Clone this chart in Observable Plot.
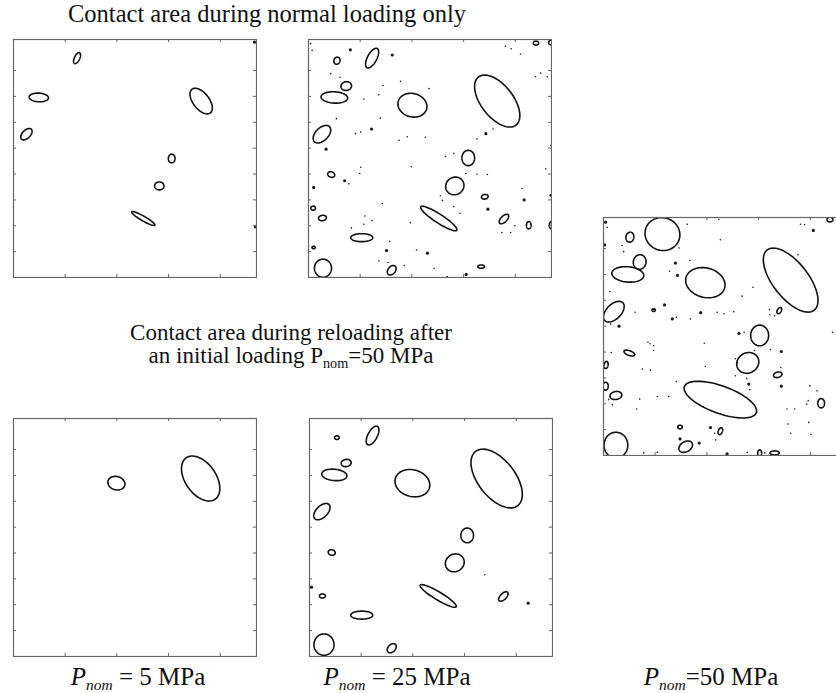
<!DOCTYPE html>
<html>
<head>
<meta charset="utf-8">
<script src="https://cdn.jsdelivr.net/npm/d3@7"></script>
<script src="https://cdn.jsdelivr.net/npm/@observablehq/plot@0.6"></script>
<style>
  html, body { margin: 0; padding: 0; background: #fff; }
  #fig { position: relative; width: 836px; height: 693px; overflow: hidden; background: #fff;
         font-family: "Liberation Serif", "Times New Roman", serif; color: #111; }
  .panel { position: absolute; width: 245px; height: 240px; }
  .txt { position: absolute; white-space: nowrap; transform: translateX(-50%); line-height: 1; }
  .sub { font-size: 0.62em; position: relative; top: 0.32em; }
</style>
</head>
<body>
<div id="fig"></div>
<script>
// Contact patches: [centre x, centre y, semi-axis a, semi-axis b, tilt of a (deg)], in µm-like grid units
const loadingLow = [
  [123, 424, 11.5, 5.2, 65], [49, 348, 18.7, 8.4, -3], [25, 277, 13.5, 7.7, 45],
  [363, 341, 29, 15.5, -52], [306, 230, 8.4, 6.5, 90], [282, 177, 9, 7.7, 0],
  [251, 114, 25.8, 4.5, -30]
];
const loadingMid = [
  [123, 424, 21, 9, 62], [55, 419, 7, 5.8, 70], [73, 370, 10.3, 8.4, 10],
  [50, 348, 25.8, 11, -3], [201, 333, 28.4, 22.6, -15], [365, 341, 59, 31, -52],
  [26, 277, 20.6, 12.3, 45], [44, 199, 7, 5.2, -20], [309, 231, 14.8, 12.3, 90],
  [283, 177, 18, 16.8, 30], [252, 114, 41.5, 8.4, -33], [103, 77, 21.3, 7.7, 0],
  [28, 18, 17.5, 16.5, 90], [161, 14, 10.3, 7, 50], [27, 115, 7.7, 5.2, 10],
  [9, 134, 4.5, 3.9, 0], [10, 58, 3.2, 2.3, 0], [341, 156, 6.5, 4.5, 10],
  [378, 113, 11.6, 5.8, 45], [426, 101, 7, 4.5, 90], [469, 101, 6.5, 3.2, 90],
  [440, 453, 5.2, 3.9, 0], [469, 454, 4.5, 4.5, 0], [334, 21, 6.5, 3.2, 0]
];
const loadingHigh = [
  [114, 428, 34, 31.6, -20], [51, 422, 9.7, 7.7, 80], [70, 374, 14.2, 12.3, 80],
  [47, 350, 31, 14.8, -5], [197, 334, 38.7, 28.4, -15], [362, 339, 73.9, 34.2, -52],
  [20, 278, 24.5, 14.2, 45], [50, 198, 11, 4.5, -20], [5, 175, 7, 3.9, 80],
  [302, 232, 20, 17.4, 90], [279, 179, 22, 19.4, 30], [226, 108, 74, 26.4, -20],
  [337, 156, 8.4, 5.2, 15], [421, 101, 9, 6.5, 90], [24, 116, 11.6, 7.7, 10],
  [4, 134, 7.7, 5.2, 90], [24, 20, 25, 23, 90], [159, 17, 14.2, 9.7, 30],
  [148, 55, 4.5, 3.5, 0], [226, 47, 7, 3.9, 70], [302, 5, 5.8, 3.9, 90],
  [331, 5, 9, 3.9, 0], [438, 456, 5.8, 4.5, 0], [340, 280, 6.5, 3.9, 60],
  [97, 281, 3.2, 2.6, 0]
];
const reload5 = [
  [199, 335, 16.8, 12.9, -15], [362, 344, 48.8, 29.7, -55]
];
const reload25 = [
  [122, 427, 20, 9, 62], [53, 423, 4.5, 3.5, 0], [71, 374, 9.7, 7, 10],
  [48, 351, 24.5, 11, -5], [199, 335, 34.2, 25.8, -15], [362, 344, 66.4, 35.8, -52],
  [24, 280, 19.4, 11, 45], [43, 201, 7, 5.2, -15], [305, 234, 14.2, 12.3, 90],
  [281, 181, 18.7, 16.8, 30], [249, 117, 40.6, 7.7, -31], [375, 116, 11.6, 5.8, 45],
  [25, 117, 5.8, 3.9, 0], [101, 80, 21.3, 7.7, 0], [28, 23, 20.6, 19.4, 90],
  [159, 16, 10.3, 7, 45]
];

// Isolated micro-contacts: [x, y, size class 1 = speck, 2 = spot]
const specksLow = [[466, 455, 2], [468, 98, 2]];
const specksMid = [
  [81, 440, 2], [4, 452, 1], [7, 439, 1], [162, 430, 2], [381, 447, 1], [392, 442, 1],
  [410, 432, 1], [449, 395, 1], [439, 388, 1], [462, 388, 1], [61, 387, 1], [43, 394, 1],
  [144, 371, 1], [178, 379, 1], [136, 353, 1], [107, 345, 1], [233, 365, 1], [54, 307, 1],
  [139, 308, 1], [122, 287, 2], [101, 281, 1], [91, 278, 1], [175, 265, 1], [191, 272, 1],
  [226, 271, 1], [343, 278, 2], [357, 287, 1], [326, 268, 1], [34, 248, 2], [469, 255, 1],
  [265, 234, 1], [281, 240, 1], [199, 214, 1], [101, 213, 1], [99, 201, 1], [70, 187, 2],
  [78, 181, 1], [10, 174, 2], [304, 201, 1], [326, 200, 1], [346, 199, 1], [459, 210, 1],
  [413, 172, 1], [417, 150, 2], [469, 159, 2], [143, 143, 1], [255, 158, 1], [259, 149, 1],
  [281, 137, 1], [347, 132, 2], [293, 124, 1], [399, 100, 1], [374, 87, 1], [391, 87, 1],
  [109, 119, 1], [123, 110, 1], [107, 103, 1], [83, 96, 1], [197, 106, 1], [157, 70, 1],
  [151, 52, 2], [209, 53, 1], [230, 47, 2], [136, 32, 1], [154, 29, 1], [185, 23, 1],
  [243, 18, 1], [305, 6, 2], [268, 2, 1]
];
const specksHigh = [
  [4, 451, 2], [7, 441, 1], [2, 407, 2], [39, 394, 1], [36, 406, 1], [162, 447, 1],
  [223, 456, 1], [226, 417, 1], [146, 401, 1], [167, 377, 1], [139, 372, 2], [128, 356, 1],
  [143, 348, 2], [268, 308, 1], [289, 325, 1], [381, 447, 1], [389, 446, 1], [406, 435, 2],
  [376, 388, 1], [12, 317, 1], [61, 277, 1], [96, 282, 1], [118, 291, 2], [133, 264, 2],
  [141, 267, 1], [168, 264, 1], [188, 276, 2], [220, 277, 1], [233, 274, 1], [252, 278, 1],
  [321, 282, 1], [322, 272, 1], [331, 270, 1], [30, 250, 2], [14, 254, 1], [86, 219, 1],
  [90, 216, 1], [97, 212, 1], [97, 203, 1], [195, 217, 1], [262, 236, 2], [272, 238, 1],
  [292, 203, 1], [323, 205, 1], [344, 201, 2], [15, 199, 1], [443, 238, 1], [255, 187, 1],
  [259, 179, 1], [197, 172, 1], [255, 154, 1], [277, 149, 1], [281, 138, 2], [283, 127, 1],
  [343, 170, 1], [344, 134, 2], [399, 135, 1], [413, 125, 1], [141, 143, 1], [75, 167, 1],
  [91, 165, 1], [126, 114, 1], [104, 114, 1], [70, 109, 1], [64, 90, 1], [10, 108, 1],
  [17, 98, 1], [370, 90, 1], [393, 99, 1], [396, 106, 1], [355, 90, 1], [362, 43, 1],
  [401, 41, 1], [357, 61, 1], [397, 64, 1], [207, 54, 2], [215, 43, 1], [148, 32, 2],
  [185, 24, 2], [217, 30, 1], [239, 3, 2], [278, 6, 1], [312, 5, 1], [78, 5, 1], [104, 6, 1]
];
const specks25 = [[4, 134, 2], [339, 158, 1], [423, 103, 2]];

// Image grid and tick positions
const xDomain = [0, 470];
const yDomain = [0, 460];
const xTicks = [100, 200, 300, 400];
const yTicks = [50, 100, 150, 200, 250, 300, 350, 400];

function outline(patches) {
  const pts = [];
  patches.forEach(([cx, cy, a, b, deg], id) => {
    const t = deg * Math.PI / 180;
    for (let i = 0; i <= 72; i++) {
      const u = i / 72 * 2 * Math.PI;
      pts.push({
        id,
        x: cx + a * Math.cos(u) * Math.cos(t) - b * Math.sin(u) * Math.sin(t),
        y: cy + a * Math.cos(u) * Math.sin(t) + b * Math.sin(u) * Math.cos(t)
      });
    }
  });
  return pts;
}

function panel(patches, specks) {
  const tick = 6;
  return Plot.plot({
    width: 245, height: 240, margin: 1,
    x: {domain: xDomain, axis: null},
    y: {domain: yDomain, axis: null},
    r: {type: "linear", domain: [1, 2], range: [0.8, 1.6]},
    marks: [
      Plot.line(outline(patches), {x: "x", y: "y", z: "id", stroke: "#111", strokeWidth: 1.6, clip: true}),
      Plot.dot(specks, {x: d => d[0], y: d => d[1], r: d => d[2], fill: "#1a1a1a", stroke: null, clip: true}),
      Plot.ruleX(xTicks, {x: d => d, y1: yDomain[0], y2: yDomain[0] + tick, stroke: "#666"}),
      Plot.ruleX(xTicks, {x: d => d, y1: yDomain[1] - tick, y2: yDomain[1], stroke: "#666"}),
      Plot.ruleY(yTicks, {y: d => d, x1: xDomain[0], x2: xDomain[0] + tick, stroke: "#666"}),
      Plot.ruleY(yTicks, {y: d => d, x1: xDomain[1] - tick, x2: xDomain[1], stroke: "#666"}),
      Plot.frame({stroke: "#666", strokeWidth: 1.2})
    ]
  });
}

const fig = document.getElementById("fig");
function place(node, left, top) {
  const div = document.createElement("div");
  div.className = "panel";
  div.style.left = left + "px";
  div.style.top = top + "px";
  div.appendChild(node);
  fig.appendChild(div);
}
function label(html, cx, top, size) {
  const div = document.createElement("div");
  div.className = "txt";
  div.style.left = cx + "px";
  div.style.top = top + "px";
  div.style.fontSize = size + "px";
  div.innerHTML = html;
  fig.appendChild(div);
}

place(panel(loadingLow, specksLow), 12, 38);
place(panel(loadingMid, specksMid), 307, 38);
place(panel(loadingHigh, specksHigh), 602, 216);
place(panel(reload5, []), 12, 417);
place(panel(reload25, specks25), 308, 417);

label("Contact area during normal loading only", 267, 2, 24.5);
label("Contact area during reloading after", 291, 321, 23);
label("an initial loading P<span class='sub'>nom</span>=50 MPa", 291, 344, 23);
label("<i>P</i><i class='sub'>nom</i> = 5 MPa", 138, 664, 25);
label("<i>P</i><i class='sub'>nom</i> = 25 MPa", 397, 664, 25);
label("<i>P</i><i class='sub'>nom</i>=50 MPa", 711, 664, 25);
</script>
</body>
</html>
